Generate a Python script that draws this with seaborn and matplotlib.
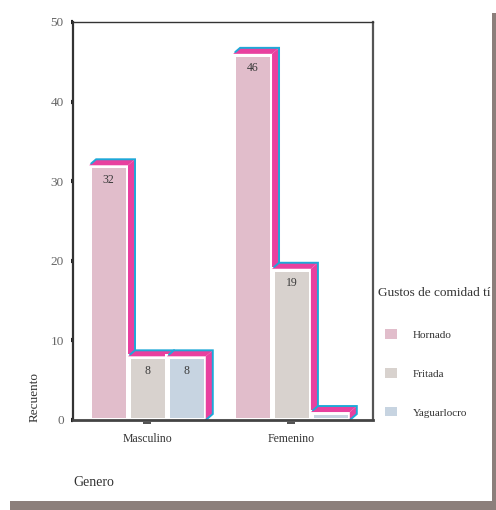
import numpy as np
import pandas as pd
import matplotlib
matplotlib.use("Agg")
import matplotlib.pyplot as plt
import matplotlib.transforms as mtransforms
from matplotlib.patches import Polygon, Rectangle, Patch
import seaborn as sns

# ---- data -------------------------------------------------------------
generos = ["Masculino", "Femenino"]
gustos = ["Hornado", "Fritada", "Yaguarlocro"]
hornado = [32, 46]
fritada = [8, 19]
yaguarlocro = [8, 1]
# values printed on the bars (None = no label)
etiquetas_hornado = ["32", "46"]
etiquetas_fritada = ["8", "19"]
etiquetas_yaguarlocro = ["8", None]
yticks = [0, 10, 20, 30, 40, 50]

colores = {"Hornado": "#c47c99", "Fritada": "#b2a79e", "Yaguarlocro": "#91aac4"}

filas = []
for serie, valores, etiquetas in [("Hornado", hornado, etiquetas_hornado),
                                  ("Fritada", fritada, etiquetas_fritada),
                                  ("Yaguarlocro", yaguarlocro, etiquetas_yaguarlocro)]:
    for g, v, e in zip(generos, valores, etiquetas):
        filas.append({"Genero": g, "Gusto": serie, "Recuento": v, "Etiqueta": e})
df = pd.DataFrame(filas)

# ---- style ------------------------------------------------------------
# 96 dpi makes the hatch cell 96 px, so 48 hatch lines fall every 2 px
DPI = 96
S = 100 / DPI          # sizes below are given for 100 dpi pixels

sns.set_style("white")
plt.rcParams["font.family"] = ["Liberation Serif", "DejaVu Serif"]
plt.rcParams["hatch.linewidth"] = 0.75

W, H = 496, 510
fig = plt.figure(figsize=(W / DPI, H / DPI), dpi=DPI)
fig.patch.set_facecolor("white")
ax = fig.add_axes([73 / W, 1 - 420 / H, 300 / W, 398 / H])

sns.barplot(data=df, x="Genero", y="Recuento", hue="Gusto",
            order=generos, hue_order=gustos, palette=colores,
            width=0.81, gap=0.115, saturation=1, errorbar=None,
            legend=False, ax=ax)

XMIN, XMAX = -0.517, 1.566
ax.set_xlim(XMIN, XMAX)
ax.set_ylim(0, 50)
ax.set_yticks(yticks)

# pixel -> data scale for the 3D depth of the boxes
px_x = 300 / (XMAX - XMIN)
px_y = 398 / 50
dx, dy = 7 / px_x, 6 / px_y

MAGENTA = "#e8409f"
CIAN = "#1ea8d8"

bars = sorted(ax.patches, key=lambda p: p.get_x())
slot = 0.81 / 3
for k, bar in enumerate(bars):
    cx = bar.get_x() + bar.get_width() / 2
    v = bar.get_height()
    color = bar.get_facecolor()
    z = 2 + k * 0.1
    x0, x1 = cx - slot / 2, cx + slot / 2

    # white front of the box
    ax.add_patch(Rectangle((x0, 0), slot, v, facecolor="white",
                           edgecolor="none", zorder=z))
    # hatched bar
    bar.set_facecolor("white")
    bar.set_edgecolor(color)
    bar.set_linewidth(0)
    bar.set_hatch("--------")
    bar.set_zorder(z + 0.01)
    # white rim of the front face
    ax.add_patch(Rectangle((x0, 0), slot, v, facecolor="none",
                           edgecolor="white", lw=3.6 * S, joinstyle="miter",
                           zorder=z + 0.02))
    # top and side faces
    top = Polygon([(x0, v), (x1, v), (x1 + dx, v + dy), (x0 + dx, v + dy)],
                  closed=True, facecolor=MAGENTA, edgecolor="none",
                  zorder=z + 0.03)
    side = Polygon([(x1, 0), (x1, v), (x1 + dx, v + dy), (x1 + dx, dy)],
                   closed=True, facecolor=MAGENTA, edgecolor="none",
                   zorder=z + 0.03)
    ax.add_patch(top)
    ax.add_patch(side)
    ax.plot([x0 + dx * 0.3, x0 + dx, x1 + dx, x1 + dx, x1],
            [v + dy * 0.3, v + dy, v + dy, dy, 0],
            color=CIAN, lw=1.4 * S, solid_joinstyle="miter", zorder=z + 0.04,
            clip_on=False)

# value labels
for bar in bars:
    cx = bar.get_x() + bar.get_width() / 2
    v = bar.get_height()
    etiqueta = None
    for _, r in df.iterrows():
        gi = generos.index(r["Genero"])
        hi = gustos.index(r["Gusto"])
        if abs((gi + (hi - 1) * slot) - cx) < 1e-6:
            etiqueta = r["Etiqueta"]
    if etiqueta:
        ax.annotate(etiqueta, (cx, v), xytext=(0, -15 * DPI / 100),
                    textcoords="offset pixels", ha="center", va="center",
                    fontsize=8.5 * S, color="#3a3a3a", zorder=10)

# spines and ticks
for s in ["left", "right", "top", "bottom"]:
    ax.spines[s].set_visible(True)
ax.spines["left"].set_color("#333333")
ax.spines["left"].set_linewidth(1.6 * S)
ax.spines["bottom"].set_color("#444444")
ax.spines["bottom"].set_linewidth(2.0 * S)
ax.spines["top"].set_color("#333333")
ax.spines["top"].set_linewidth(1.0 * S)
ax.spines["right"].set_color("#555555")
ax.spines["right"].set_linewidth(1.6 * S)
ax.spines["bottom"].set_zorder(20)

ax.tick_params(axis="y", direction="out", length=1.6 * S, width=3 * S,
               color="#222222", pad=5 * S, labelsize=9.5 * S,
               labelcolor="#666666", left=True)
ax.tick_params(axis="x", length=0, pad=9 * S, labelsize=8.5 * S,
               labelcolor="#333333")
blend = mtransforms.blended_transform_factory(ax.transData, ax.transAxes)
ax.plot([0, 1], [-0.008, -0.008], ls="none", marker="_", ms=6 * S,
        mew=1.2 * S, color="#333333", transform=blend, clip_on=False)

ax.set_ylabel("Recuento", fontsize=9.5 * S, color="#333333", va="center")
ax.yaxis.set_label_coords((35 - 73) / 300, (420 - 397) / 398)
ax.set_xlabel("Genero", fontsize=10 * S, color="#333333", loc="left",
              va="center")
ax.xaxis.set_label_coords(0.0, (420 - 482) / 398)

# legend: title text plus hatched swatches
fig.text(378 / W, 1 - 293 / H, "Gustos de comidad tí", fontsize=9.5 * S,
         color="#333333", ha="left", va="center")
handles = [Patch(facecolor="white", edgecolor=colores[g], lw=0,
                 hatch="--------") for g in gustos]
leg = ax.legend(handles, gustos, loc="upper left",
                bbox_to_anchor=(385 / W, 1 - 329 / H),
                bbox_transform=fig.transFigure, frameon=False,
                fontsize=8 * S, handlelength=1.1, handleheight=0.95,
                handletextpad=1.4, labelspacing=2.55, borderpad=0,
                borderaxespad=0)
for t in leg.get_texts():
    t.set_color("#333333")

# drop shadow of the chart frame
SOMBRA = "#8c7f7b"
fig.add_artist(Rectangle((10 / W, 0), 486 / W, 9 / H, transform=fig.transFigure,
                         facecolor=SOMBRA, edgecolor="none"))
fig.add_artist(Rectangle((492 / W, 0), 4 / W, (H - 13) / H,
                         transform=fig.transFigure, facecolor=SOMBRA,
                         edgecolor="none"))

fig.savefig("out.png", dpi=DPI, facecolor="white")
